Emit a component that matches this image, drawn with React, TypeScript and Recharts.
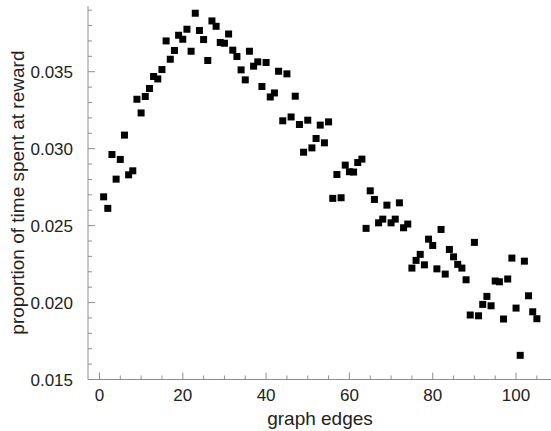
import React from 'react';
import { ScatterChart, Scatter, XAxis, YAxis } from 'recharts';

// number of graph edges (x) and the proportion (y)
const edges = [
  1, 2, 3, 4, 5, 6, 7, 8, 9, 10, 11, 12, 13, 14, 15, 16, 17, 18, 19, 20,
  21, 22, 23, 24, 25, 26, 27, 28, 29, 30, 31, 32, 33, 34, 35, 36, 37, 38, 39, 40,
  41, 42, 43, 44, 45, 46, 47, 48, 49, 50, 51, 52, 53, 54, 55, 56, 57, 58, 59, 60,
  61, 62, 63, 64, 65, 66, 67, 68, 69, 70, 71, 72, 73, 74, 75, 76, 77, 78, 79, 80,
  81, 82, 83, 84, 85, 86, 87, 88, 89, 90, 91, 92, 93, 94, 95, 96, 97, 98, 99, 100,
  101, 102, 103, 104, 105,
];

const proportions = [
  0.02687, 0.02612, 0.02962, 0.02802, 0.0293, 0.03088, 0.0283, 0.02856, 0.03321, 0.03232,
  0.03339, 0.03391, 0.03469, 0.03453, 0.03514, 0.037, 0.03581, 0.03638, 0.03737, 0.03711,
  0.03776, 0.03633, 0.0388, 0.03768, 0.03709, 0.03573, 0.0383, 0.03795, 0.0369, 0.03685,
  0.03745, 0.0364, 0.03599, 0.03512, 0.03447, 0.03633, 0.03536, 0.03564, 0.03404, 0.0356,
  0.03336, 0.03362, 0.03503, 0.03181, 0.03486, 0.03206, 0.03341, 0.03157, 0.02977, 0.03185,
  0.03005, 0.03066, 0.03153, 0.03038, 0.03174, 0.02677, 0.02832, 0.02681, 0.02893, 0.0285,
  0.02848, 0.0291, 0.02932, 0.02482, 0.02726, 0.0267, 0.02518, 0.02542, 0.02633, 0.02518,
  0.02542, 0.02648, 0.02486, 0.0251, 0.02224, 0.02274, 0.02313, 0.02245, 0.02412, 0.02371,
  0.02219, 0.02475, 0.02185, 0.02345, 0.02297, 0.02248, 0.02224, 0.02148, 0.01919, 0.02391,
  0.01914, 0.01988, 0.0204, 0.01979, 0.0214, 0.02135, 0.01893, 0.02153, 0.02289, 0.01964,
  0.01657, 0.02269, 0.02044, 0.0194, 0.01895,
];

const xTicks = [0, 5, 10, 15, 20, 25, 30, 35, 40, 45, 50, 55, 60, 65, 70, 75, 80, 85, 90, 95, 100, 105];
const xLabels = [0, 20, 40, 60, 80, 100];
const yTicks = [
  0.015, 0.016, 0.017, 0.018, 0.019, 0.02, 0.021, 0.022, 0.023, 0.024, 0.025, 0.026, 0.027,
  0.028, 0.029, 0.03, 0.031, 0.032, 0.033, 0.034, 0.035, 0.036, 0.037, 0.038, 0.039,
];
const yLabels = [0.015, 0.02, 0.025, 0.03, 0.035];

const data = edges.map((e, i) => ({ edge: e, proportion: proportions[i] }));

const FRAME = '#8f8f8f';
const TEXT = '#222';
const FONT = '"Liberation Sans", Arial, sans-serif';
const X_DOMAIN: [number, number] = [-2.75, 109.35];
const Y_DOMAIN: [number, number] = [0.015, 0.03927];

const BottomTick = (props: any) => {
  const { x, y, payload } = props;
  const major = xLabels.includes(payload.value);
  return (
    <g>
      <line x1={x} x2={x} y1={y} y2={y - (major ? 7 : 4)} stroke={FRAME} />
      {major && (
        <text x={x} y={y + 21} textAnchor="middle" fill={TEXT} fontSize={17} fontFamily={FONT}>
          {payload.value}
        </text>
      )}
    </g>
  );
};

const TopTick = (props: any) => {
  const { x, y, payload } = props;
  const major = xLabels.includes(payload.value);
  return <line x1={x} x2={x} y1={y} y2={y + (major ? 7 : 4)} stroke={FRAME} />;
};

const LeftTick = (props: any) => {
  const { x, y, payload } = props;
  const major = yLabels.includes(payload.value);
  return (
    <g>
      <line x1={x} x2={x + (major ? 7 : 4)} y1={y} y2={y} stroke={FRAME} />
      {major && (
        <text x={x - 15} y={y} dy="0.36em" textAnchor="end" fill={TEXT} fontSize={17} fontFamily={FONT}>
          {payload.value.toFixed(3)}
        </text>
      )}
    </g>
  );
};

const SquareDot = (props: any) => {
  const { cx, cy } = props;
  return <rect x={cx - 3.5} y={cy - 3.5} width={7} height={7} fill="#000" />;
};

export default function App() {
  return (
    <div style={{ position: 'absolute', left: 0, top: 0, width: 551, height: 431, overflow: 'hidden', background: '#fff' }}>
      <ScatterChart width={555} height={431} margin={{ top: 6, right: 0, bottom: 0, left: 0 }}>
        <XAxis
          dataKey="edge"
          type="number"
          domain={X_DOMAIN}
          allowDataOverflow
          ticks={xTicks}
          interval={0}
          height={51.5}
          tickSize={0}
          tickMargin={0}
          tickLine={false}
          axisLine={{ stroke: FRAME }}
          tick={<BottomTick />}
        />
        <XAxis
          xAxisId="top"
          orientation="top"
          dataKey="edge"
          type="number"
          domain={X_DOMAIN}
          allowDataOverflow
          ticks={xTicks}
          interval={0}
          height={0}
          tickSize={0}
          tickMargin={0}
          tickLine={false}
          axisLine={{ stroke: FRAME }}
          tick={<TopTick />}
        />
        <YAxis
          dataKey="proportion"
          type="number"
          domain={Y_DOMAIN}
          allowDataOverflow
          ticks={yTicks}
          interval={0}
          width={88}
          tickSize={0}
          tickMargin={0}
          tickLine={false}
          axisLine={{ stroke: FRAME }}
          tick={<LeftTick />}
        />
        <Scatter data={data} shape={<SquareDot />} isAnimationActive={false} />
        <text x={320} y={425} textAnchor="middle" fill={TEXT} fontSize={19} fontFamily={FONT}>
          graph edges
        </text>
        <text
          x={24}
          y={192.6}
          transform="rotate(-90 24 192.6)"
          textAnchor="middle"
          fill={TEXT}
          fontSize={19}
          fontFamily={FONT}
        >
          proportion of time spent at reward
        </text>
      </ScatterChart>
    </div>
  );
}
